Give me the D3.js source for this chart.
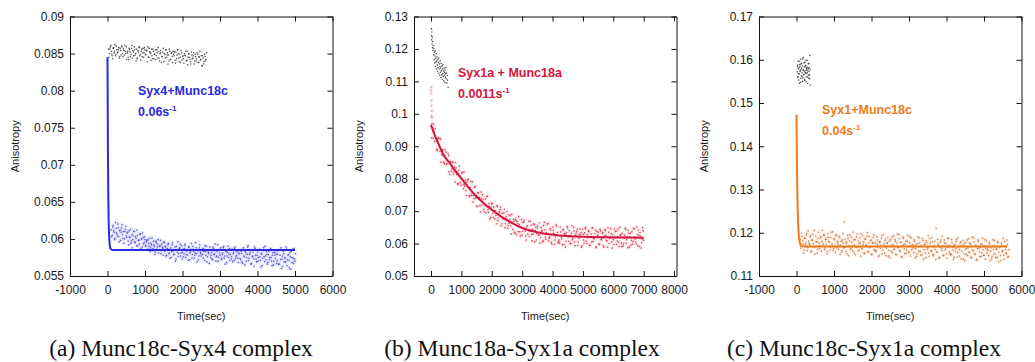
<!DOCTYPE html>
<html>
<head>
<meta charset="utf-8">
<script src="https://cdn.jsdelivr.net/npm/d3@7"></script>
<style>
  html, body { margin: 0; padding: 0; background: #fff; }
  svg { display: block; }
</style>
</head>
<body>
<svg id="fig" width="1035" height="362"></svg>
<script>
// ---------------- data ----------------
// Anisotropy readings. Each trace is stored as two interleaved read-outs
// taken at a fixed sampling interval (s); start times are given per read-out.

// (a) Munc18c-Syx4
const syx4XTicks = [-1000, 0, 1000, 2000, 3000, 4000, 5000, 6000];
const syx4YTicks = [0.055, 0.06, 0.065, 0.07, 0.075, 0.08, 0.085, 0.09];
const syx4FreeStep = 25;
const syx4FreeStartA = 25;
const syx4FreeA = [
  0.0856,0.0850,0.0859,0.0853,0.0847,0.0857,0.0851,0.0862,0.0849,0.0855,
  0.0852,0.0858,0.0846,0.0854,0.0860,0.0850,0.0856,0.0848,0.0853,0.0859,
  0.0851,0.0845,0.0857,0.0852,0.0849,0.0861,0.0854,0.0847,0.0855,0.0850,
  0.0856,0.0844,0.0852,0.0858,0.0849,0.0853,0.0846,0.0857,0.0851,0.0855,
  0.0848,0.0854,0.0859,0.0845,0.0852,0.0850,0.0856,0.0843,0.0853,0.0849,
  0.0855,0.0847,0.0851,0.0858,0.0844,0.0850,0.0854,0.0846,0.0852,0.0839,
  0.0849,0.0855,0.0845,0.0851,0.0848,0.0856,0.0842,0.0850,0.0846,0.0853,
  0.0847,0.0841,0.0852,0.0848,0.0855,0.0844,0.0849,0.0838,0.0851,0.0846,
  0.0843,0.0850,0.0847,0.0840,0.0853,0.0845,0.0849,0.0842,0.0836,0.0848,
  0.0844,0.0851,0.0840,0.0846,0.0843,0.0849,0.0838,0.0845,0.0841,0.0847,
  0.0833,0.0844,0.0839,0.0846,0.0842
];
const syx4FreeStartB = 37.5;
const syx4FreeB = [
  0.0845,0.0856,0.0861,0.0849,0.0843,0.0858,0.0853,0.0847,0.0860,0.0851,
  0.0855,0.0844,0.0857,0.0848,0.0859,0.0846,0.0854,0.0861,0.0850,0.0842,
  0.0853,0.0842,0.0855,0.0846,0.0857,0.0844,0.0852,0.0859,0.0848,0.0840,
  0.0843,0.0854,0.0859,0.0847,0.0841,0.0856,0.0851,0.0845,0.0858,0.0849,
  0.0854,0.0839,0.0845,0.0857,0.0852,0.0841,0.0847,0.0856,0.0843,0.0849,
  0.0842,0.0855,0.0844,0.0853,0.0840,0.0851,0.0838,0.0846,0.0857,0.0850,
  0.0844,0.0855,0.0848,0.0836,0.0840,0.0853,0.0842,0.0851,0.0838,0.0849,
  0.0852,0.0837,0.0843,0.0855,0.0850,0.0839,0.0845,0.0854,0.0841,0.0847,
  0.0837,0.0848,0.0853,0.0841,0.0835,0.0850,0.0845,0.0839,0.0852,0.0843,
  0.0847,0.0836,0.0849,0.0840,0.0851,0.0838,0.0846,0.0853,0.0842,0.0834,
  0.0847,0.0836,0.0849,0.0840,0.0851
];
const syx4MixStep = 25;
const syx4MixStartA = 100;
const syx4MixA = [
  0.0612,0.0605,0.0618,0.0609,0.0601,0.0614,0.0607,0.0620,0.0603,0.0611,0.0598,0.0615,0.0606,0.0610,0.0600,0.0613,0.0604,
  0.0608,0.0597,0.0611,0.0602,0.0594,0.0606,0.0599,0.0610,0.0596,0.0603,0.0591,0.0605,0.0598,0.0593,0.0607,0.0600,0.0589,0.0602,0.0595,0.0599,
  0.0590,0.0598,0.0586,0.0594,0.0601,0.0588,0.0592,0.0584,0.0597,0.0590,0.0582,0.0595,0.0589,0.0599,0.0585,0.0591,0.0580,0.0593,0.0587,0.0596,
  0.0583,0.0590,0.0578,0.0587,0.0594,0.0581,0.0586,0.0575,0.0592,0.0584,0.0579,0.0589,0.0573,0.0585,0.0596,0.0580,0.0588,0.0577,0.0591,0.0582,
  0.0576,0.0587,0.0593,0.0579,0.0584,0.0571,0.0589,0.0581,0.0586,0.0574,0.0590,0.0583,0.0578,0.0595,0.0580,0.0585,0.0572,0.0588,0.0582,0.0577,
  0.0586,0.0574,0.0583,0.0591,0.0578,0.0569,0.0584,0.0580,0.0589,0.0575,0.0582,0.0572,0.0587,0.0579,0.0593,0.0576,0.0583,0.0570,0.0585,0.0578,
  0.0588,0.0574,0.0581,0.0590,0.0577,0.0584,0.0568,0.0582,0.0575,0.0587,0.0579,0.0573,0.0586,0.0580,0.0571,0.0589,0.0576,0.0583,0.0574,0.0581,
  0.0585,0.0572,0.0580,0.0567,0.0588,0.0576,0.0583,0.0570,0.0579,0.0591,0.0574,0.0581,0.0566,0.0585,0.0577,0.0573,0.0589,0.0578,0.0569,0.0582,
  0.0575,0.0586,0.0571,0.0580,0.0564,0.0584,0.0576,0.0590,0.0572,0.0579,0.0568,0.0583,0.0575,0.0587,0.0570,0.0578,0.0565,0.0582,0.0574,0.0580,
  0.0571,0.0584,0.0566,0.0578,0.0588,0.0573,0.0563,0.0580,0.0575,0.0569,0.0586,0.0572,0.0579,0.0561,0.0576,0.0583,0.0568,0.0574,0.0587,0.0570
];
const syx4MixStartB = 112.5;
const syx4MixB = [
  0.0603,0.0616,0.0611,0.0599,0.0622,0.0608,0.0604,0.0615,0.0596,0.0612,0.0609,0.0619,0.0601,0.0594,0.0610,0.0617,0.0602,
  0.0609,0.0592,0.0603,0.0613,0.0597,0.0588,0.0604,0.0610,0.0595,0.0601,0.0612,0.0590,0.0598,0.0606,0.0587,0.0600,0.0608,0.0593,0.0603,0.0591,
  0.0596,0.0585,0.0599,0.0590,0.0583,0.0594,0.0601,0.0587,0.0592,0.0579,0.0597,0.0586,0.0593,0.0581,0.0590,0.0598,0.0584,0.0589,0.0578,0.0595,
  0.0589,0.0577,0.0586,0.0592,0.0580,0.0574,0.0588,0.0583,0.0595,0.0579,0.0585,0.0570,0.0590,0.0582,0.0576,0.0587,0.0593,0.0581,0.0573,0.0586,
  0.0580,0.0591,0.0575,0.0584,0.0578,0.0589,0.0572,0.0583,0.0594,0.0579,0.0586,0.0574,0.0581,0.0588,0.0569,0.0584,0.0577,0.0592,0.0580,0.0585,
  0.0579,0.0587,0.0571,0.0583,0.0590,0.0576,0.0582,0.0567,0.0585,0.0578,0.0573,0.0589,0.0580,0.0584,0.0570,0.0577,0.0592,0.0575,0.0581,0.0586,
  0.0572,0.0579,0.0588,0.0574,0.0566,0.0583,0.0577,0.0590,0.0580,0.0571,0.0585,0.0576,0.0569,0.0582,0.0587,0.0573,0.0578,0.0584,0.0568,0.0580,
  0.0574,0.0583,0.0569,0.0586,0.0577,0.0565,0.0581,0.0575,0.0589,0.0571,0.0579,0.0584,0.0567,0.0576,0.0582,0.0563,0.0587,0.0573,0.0578,0.0570,
  0.0585,0.0576,0.0562,0.0580,0.0574,0.0588,0.0569,0.0577,0.0583,0.0566,0.0579,0.0572,0.0586,0.0575,0.0564,0.0581,0.0570,0.0578,0.0584,0.0567,
  0.0579,0.0566,0.0585,0.0572,0.0560,0.0577,0.0583,0.0569,0.0574,0.0589,0.0564,0.0578,0.0571,0.0582,0.0559,0.0575,0.0586,0.0567,0.0573,0.0580
];
const syx4Fit = [
  [0,0.0845],[10,0.0728],[20,0.0664],[30,0.0627],[40,0.0608],[50,0.0598],
  [60,0.0592],[80,0.0587],[100,0.0586],[150,0.0585],[5000,0.0585]
];

// (b) Munc18a-Syx1a
const syx1aXTicks = [0, 1000, 2000, 3000, 4000, 5000, 6000, 7000, 8000];
const syx1aYTicks = [0.05, 0.06, 0.07, 0.08, 0.09, 0.1, 0.11, 0.12, 0.13];
const syx1aFree = [
  [12,0.1262],[18,0.1241],[22,0.1228],[28,0.1252],[33,0.1215],[40,0.1236],[48,0.1204],[55,0.1223],[62,0.1195],[75,0.1210],
  [85,0.1182],[95,0.1201],[105,0.1168],[112,0.1189],[120,0.1157],[130,0.1178],[138,0.1194],[146,0.1146],[155,0.1171],[163,0.1160],
  [172,0.1185],[180,0.1139],[190,0.1163],[198,0.1176],[207,0.1150],[215,0.1131],[224,0.1168],[232,0.1143],[241,0.1159],[250,0.1125],
  [258,0.1172],[266,0.1138],[275,0.1154],[284,0.1119],[292,0.1146],[300,0.1163],[309,0.1128],[318,0.1141],[326,0.1112],[335,0.1155],
  [343,0.1133],[352,0.1120],[360,0.1147],[369,0.1106],[378,0.1138],[386,0.1124],[395,0.1151],[404,0.1115],[412,0.1132],[421,0.1102],
  [430,0.1141],[438,0.1119],[447,0.1128],[456,0.1097],[464,0.1135],[473,0.1113],[482,0.1124],[490,0.1143],[500,0.1108],[510,0.1126],
  [522,0.1095],[535,0.1118],[548,0.1104],[560,0.1082]
];
const syx1aOnset = [
  [8,0.1072],[10,0.1082],[12,0.1025],[15,0.1063],[18,0.0994],[20,0.1041],[25,0.1009],[30,0.0988]
];
const syx1aMixStep = 35;
const syx1aMixStartA = 35;
const syx1aMixA = [
  0.0970,0.0925,0.0945,0.0954,0.0916,0.0887,0.0925,0.0899,0.0922,0.0874,
  0.0888,0.0851,0.0869,0.0882,0.0847,0.0878,0.0821,0.0851,0.0823,0.0849,
  0.0813,0.0836,0.0850,0.0813,0.0784,0.0825,0.0809,0.0780,0.0817,0.0783,
  0.0820,0.0783,0.0763,0.0789,0.0798,0.0744,0.0772,0.0748,0.0790,0.0748,
  0.0774,0.0741,0.0716,0.0757,0.0742,0.0717,0.0759,0.0718,0.0735,0.0699,
  0.0737,0.0715,0.0745,0.0696,0.0715,0.0681,0.0724,0.0693,0.0713,0.0676,
  0.0687,0.0717,0.0670,0.0694,0.0705,0.0654,0.0693,0.0676,0.0706,0.0661,
  0.0675,0.0647,0.0689,0.0675,0.0654,0.0690,0.0643,0.0669,0.0632,0.0671,
  0.0668,0.0637,0.0658,0.0623,0.0674,0.0637,0.0666,0.0647,0.0623,0.0652,
  0.0629,0.0669,0.0638,0.0656,0.0609,0.0629,0.0658,0.0640,0.0611,0.0647,
  0.0626,0.0664,0.0618,0.0638,0.0606,0.0656,0.0643,0.0613,0.0629,0.0662,
  0.0616,0.0646,0.0605,0.0630,0.0641,0.0597,0.0621,0.0653,0.0634,0.0607,
  0.0602,0.0636,0.0614,0.0643,0.0597,0.0629,0.0607,0.0653,0.0621,0.0640,
  0.0599,0.0632,0.0612,0.0650,0.0605,0.0626,0.0638,0.0594,0.0616,0.0645,
  0.0634,0.0593,0.0629,0.0601,0.0646,0.0608,0.0627,0.0639,0.0595,0.0621,
  0.0605,0.0648,0.0616,0.0631,0.0590,0.0638,0.0625,0.0599,0.0644,0.0612,
  0.0631,0.0594,0.0623,0.0640,0.0610,0.0589,0.0635,0.0616,0.0646,0.0605,
  0.0627,0.0597,0.0620,0.0638,0.0608,0.0644,0.0591,0.0625,0.0602,0.0632,
  0.0599,0.0626,0.0644,0.0612,0.0587,0.0632,0.0620,0.0595,0.0636,0.0606,
  0.0647,0.0614,0.0598,0.0628,0.0641,0.0591,0.0623,0.0603,0.0649,0.0610
];
const syx1aMixStartB = 17.5;
const syx1aMixB = [
  0.0926,0.0955,0.0968,0.0915,0.0924,0.0891,0.0923,0.0924,0.0884,0.0851,
  0.0889,0.0871,0.0846,0.0889,0.0844,0.0857,0.0871,0.0813,0.0853,0.0830,
  0.0851,0.0821,0.0790,0.0833,0.0820,0.0784,0.0838,0.0788,0.0799,0.0820,
  0.0769,0.0777,0.0795,0.0748,0.0796,0.0773,0.0748,0.0791,0.0755,0.0728,
  0.0738,0.0775,0.0741,0.0714,0.0756,0.0742,0.0697,0.0739,0.0750,0.0706,
  0.0720,0.0694,0.0746,0.0705,0.0723,0.0676,0.0712,0.0723,0.0681,0.0701,
  0.0701,0.0661,0.0714,0.0679,0.0699,0.0713,0.0661,0.0677,0.0694,0.0649,
  0.0683,0.0699,0.0655,0.0662,0.0686,0.0630,0.0665,0.0675,0.0635,0.0675,
  0.0627,0.0662,0.0683,0.0636,0.0652,0.0626,0.0665,0.0672,0.0638,0.0611,
  0.0655,0.0643,0.0622,0.0669,0.0628,0.0644,0.0661,0.0606,0.0651,0.0631,
  0.0654,0.0628,0.0601,0.0649,0.0640,0.0608,0.0666,0.0620,0.0635,0.0660,
  0.0608,0.0620,0.0642,0.0599,0.0651,0.0632,0.0611,0.0658,0.0626,0.0602,
  0.0611,0.0651,0.0620,0.0596,0.0642,0.0631,0.0589,0.0634,0.0648,0.0607,
  0.0624,0.0601,0.0655,0.0617,0.0638,0.0593,0.0632,0.0645,0.0605,0.0628,
  0.0627,0.0589,0.0644,0.0611,0.0633,0.0650,0.0600,0.0618,0.0637,0.0594,
  0.0630,0.0648,0.0606,0.0615,0.0641,0.0587,0.0624,0.0635,0.0597,0.0639,
  0.0615,0.0634,0.0589,0.0643,0.0625,0.0608,0.0648,0.0600,0.0620,0.0631,
  0.0586,0.0612,0.0645,0.0637,0.0597,0.0622,0.0605,0.0650,0.0628,0.0591,
  0.0592,0.0616,0.0648,0.0601,0.0622,0.0641,0.0589,0.0632,0.0610,0.0598,
  0.0645,0.0620,0.0605,0.0651,0.0593,0.0625,0.0634,0.0586,0.0613,0.0639
];
const syx1aFit = [
  [0,0.0966],[100,0.0940],[200,0.0918],[300,0.0896],[415,0.0873],[600,0.0850],
  [800,0.0824],[1000,0.0801],[1250,0.0771],[1500,0.0745],[1750,0.0723],[2000,0.0704],
  [2300,0.0684],[2600,0.0667],[3000,0.0648],[3500,0.0635],[4000,0.0627],[4500,0.0623],
  [5000,0.0621],[6000,0.0619],[7000,0.0618]
];

// (c) Munc18c-Syx1a
const syx1XTicks = [-1000, 0, 1000, 2000, 3000, 4000, 5000, 6000];
const syx1YTicks = [0.11, 0.12, 0.13, 0.14, 0.15, 0.16, 0.17];
const syx1FreeStep = 10;
const syx1FreeStartA = 20;
const syx1FreeA = [
  0.1572,0.1588,0.1561,0.1579,0.1553,0.1596,0.1567,0.1584,0.1575,0.1548,
  0.1590,0.1563,0.1581,0.1570,0.1602,0.1558,0.1577,0.1566,0.1593,0.1574,
  0.1552,0.1585,0.1569,0.1598,0.1576,0.1560,0.1583,0.1571,0.1545,0.1580,
  0.1564,0.1591,0.1573,0.1556,0.1578
];
const syx1FreeStartB = 25;
const syx1FreeB = [
  0.1584,0.1559,0.1597,0.1568,0.1581,0.1546,0.1589,0.1573,0.1601,0.1557,
  0.1578,0.1592,0.1562,0.1586,0.1550,0.1575,0.1605,0.1566,0.1583,0.1555,
  0.1594,0.1571,0.1587,0.1549,0.1580,0.1568,0.1599,0.1560,0.1576,0.1591,
  0.1557,0.1582,0.1565,0.1610,0.1541
];
const syx1MixStep = 25;
const syx1MixStartA = 100;
const syx1MixA = [
  0.1185,0.1169,0.1192,0.1174,0.1160,0.1188,0.1177,0.1199,0.1166,0.1181,
  0.1172,0.1194,0.1158,0.1183,0.1175,0.1205,0.1168,0.1179,0.1153,0.1187,
  0.1176,0.1163,0.1191,0.1180,0.1170,0.1196,0.1161,0.1184,0.1173,0.1156,
  0.1189,0.1178,0.1167,0.1201,0.1174,0.1159,0.1186,0.1171,0.1193,0.1165,
  0.1180,0.1162,0.1188,0.1171,0.1155,0.1183,0.1176,0.1225,0.1166,0.1179,
  0.1151,0.1187,0.1170,0.1195,0.1163,0.1178,0.1158,0.1184,0.1172,0.1149,
  0.1190,0.1167,0.1181,0.1160,0.1176,0.1198,0.1164,0.1173,0.1154,0.1185,
  0.1169,0.1192,0.1157,0.1177,0.1166,0.1182,0.1150,0.1175,0.1189,0.1161,
  0.1176,0.1158,0.1183,0.1167,0.1148,0.1179,0.1171,0.1193,0.1160,0.1174,
  0.1153,0.1186,0.1165,0.1177,0.1146,0.1181,0.1169,0.1157,0.1190,0.1172,
  0.1162,0.1184,0.1150,0.1175,0.1166,0.1196,0.1159,0.1178,0.1145,0.1170,
  0.1187,0.1163,0.1173,0.1152,0.1180,0.1168,0.1155,0.1191,0.1171,0.1161,
  0.1172,0.1154,0.1180,0.1163,0.1145,0.1175,0.1167,0.1188,0.1157,0.1170,
  0.1149,0.1182,0.1161,0.1173,0.1142,0.1177,0.1165,0.1153,0.1186,0.1168,
  0.1158,0.1179,0.1147,0.1171,0.1162,0.1210,0.1155,0.1174,0.1141,0.1166,
  0.1183,0.1159,0.1169,0.1148,0.1176,0.1164,0.1151,0.1187,0.1167,0.1156,
  0.1169,0.1150,0.1177,0.1160,0.1143,0.1172,0.1164,0.1185,0.1154,0.1167,
  0.1146,0.1179,0.1158,0.1170,0.1139,0.1174,0.1162,0.1150,0.1183,0.1165,
  0.1155,0.1176,0.1144,0.1168,0.1159,0.1188,0.1152,0.1171,0.1138,0.1163,
  0.1180,0.1156,0.1166,0.1145,0.1173,0.1161,0.1148,0.1184,0.1164,0.1153,
  0.1166,0.1147,0.1174,0.1157,0.1140,0.1169,0.1161,0.1182,0.1151,0.1164,
  0.1143,0.1176,0.1155,0.1167,0.1136,0.1171,0.1159,0.1148,0.1180,0.1162,
  0.1152,0.1173,0.1145
];
const syx1MixStartB = 112.5;
const syx1MixB = [
  0.1164,0.1199,0.1181,0.1153,0.1187,0.1172,0.1195,0.1159,0.1204,0.1176,
  0.1190,0.1155,0.1183,0.1197,0.1167,0.1150,0.1192,0.1179,0.1162,0.1201,
  0.1170,0.1188,0.1157,0.1205,0.1174,0.1194,0.1165,0.1185,0.1151,0.1198,
  0.1180,0.1160,0.1189,0.1169,0.1202,0.1163,0.1184,0.1154,0.1196,0.1177,
  0.1173,0.1192,0.1150,0.1180,0.1159,0.1198,0.1165,0.1185,0.1156,0.1176,
  0.1194,0.1147,0.1181,0.1161,0.1190,0.1170,0.1201,0.1153,0.1184,0.1166,
  0.1197,0.1158,0.1175,0.1188,0.1146,0.1163,0.1193,0.1179,0.1151,0.1186,
  0.1172,0.1200,0.1155,0.1191,0.1168,0.1183,0.1149,0.1177,0.1195,0.1160,
  0.1156,0.1191,0.1173,0.1145,0.1179,0.1164,0.1187,0.1151,0.1196,0.1168,
  0.1182,0.1147,0.1175,0.1189,0.1159,0.1142,0.1184,0.1171,0.1154,0.1193,
  0.1162,0.1180,0.1149,0.1197,0.1166,0.1186,0.1157,0.1177,0.1143,0.1190,
  0.1172,0.1152,0.1181,0.1161,0.1194,0.1155,0.1176,0.1146,0.1188,0.1169,
  0.1165,0.1184,0.1142,0.1172,0.1151,0.1190,0.1157,0.1177,0.1148,0.1168,
  0.1186,0.1139,0.1173,0.1153,0.1182,0.1162,0.1193,0.1145,0.1176,0.1158,
  0.1189,0.1150,0.1167,0.1180,0.1138,0.1155,0.1185,0.1171,0.1143,0.1178,
  0.1164,0.1192,0.1147,0.1183,0.1160,0.1175,0.1141,0.1169,0.1187,0.1152,
  0.1149,0.1184,0.1166,0.1138,0.1172,0.1157,0.1180,0.1144,0.1189,0.1161,
  0.1175,0.1140,0.1168,0.1182,0.1152,0.1135,0.1177,0.1164,0.1147,0.1186,
  0.1155,0.1173,0.1142,0.1190,0.1159,0.1179,0.1150,0.1170,0.1136,0.1183,
  0.1165,0.1145,0.1174,0.1154,0.1187,0.1148,0.1169,0.1139,0.1181,0.1162,
  0.1159,0.1178,0.1136,0.1166,0.1145,0.1184,0.1151,0.1171,0.1142,0.1162,
  0.1180,0.1133,0.1167,0.1147,0.1176,0.1156,0.1187,0.1139,0.1170,0.1152,
  0.1183,0.1144,0.1161
];
const syx1Fit = [
  [0,0.1473],[10,0.1372],[20,0.1305],[30,0.1260],[40,0.1230],[50,0.1209],
  [60,0.1196],[80,0.1180],[100,0.1174],[130,0.1170],[200,0.1168],[5620,0.1168]
];

// ---------------- layout ----------------
const TOP = 16.5, BOTTOM = 276, PW = 262.5;
const sampled = (start, step, vals) => vals.map((v, i) => [start + i * step, v]);
const fmt = v => String(+v.toFixed(4));

const panels = [
  {
    left: 70, xDomain: [-1000, 6000], yDomain: [0.055, 0.09],
    xTicks: syx4XTicks, yTicks: syx4YTicks,
    free: sampled(syx4FreeStartA, syx4FreeStep, syx4FreeA)
      .concat(sampled(syx4FreeStartB, syx4FreeStep, syx4FreeB)),
    mix: sampled(syx4MixStartA, syx4MixStep, syx4MixA)
      .concat(sampled(syx4MixStartB, syx4MixStep, syx4MixB)),
    extra: [],
    fit: syx4Fit,
    dot: "#3a3ad2", halo: "#9a9af2", line: "#2a2ae0",
    name: "Syx4+Munc18c", rate: "0.06s", annX: 138, annY: 95, rateY: 116,
    caption: "(a) Munc18c-Syx4 complex", capX: 181
  },
  {
    left: 414, xDomain: [-560, 8080], yDomain: [0.05, 0.13],
    xTicks: syx1aXTicks, yTicks: syx1aYTicks,
    free: syx1aFree,
    mix: sampled(syx1aMixStartA, syx1aMixStep, syx1aMixA)
      .concat(sampled(syx1aMixStartB, syx1aMixStep, syx1aMixB)),
    extra: syx1aOnset,
    fit: syx1aFit,
    dot: "#c02238", halo: "#f29aa6", line: "#d4143c",
    name: "Syx1a + Munc18a", rate: "0.0011s", annX: 458, annY: 77, rateY: 98,
    caption: "(b) Munc18a-Syx1a complex", capX: 522
  },
  {
    left: 759, xDomain: [-1000, 6000], yDomain: [0.11, 0.17],
    xTicks: syx1XTicks, yTicks: syx1YTicks,
    free: sampled(syx1FreeStartA, syx1FreeStep, syx1FreeA)
      .concat(sampled(syx1FreeStartB, syx1FreeStep, syx1FreeB)),
    mix: sampled(syx1MixStartA, syx1MixStep, syx1MixA)
      .concat(sampled(syx1MixStartB, syx1MixStep, syx1MixB)),
    extra: [],
    fit: syx1Fit,
    dot: "#b36a38", halo: "#f7b888", line: "#ee7a1c",
    name: "Syx1+Munc18c", rate: "0.04s", annX: 822, annY: 114, rateY: 135,
    caption: "(c) Munc18c-Syx1a complex", capX: 864
  }
];

const svg = d3.select("#fig");
svg.append("rect").attr("width", 1035).attr("height", 362).attr("fill", "#fff");

const SANS = "'Liberation Sans', Arial, Helvetica, sans-serif";

panels.forEach((p, k) => {
  const x = d3.scaleLinear().domain(p.xDomain).range([p.left, p.left + PW]);
  const y = d3.scaleLinear().domain(p.yDomain).range([BOTTOM, TOP]);
  const g = svg.append("g");

  const clipId = "plot-clip-" + k;
  g.append("clipPath").attr("id", clipId)
    .append("rect").attr("x", p.left).attr("y", TOP).attr("width", PW).attr("height", BOTTOM - TOP);
  const plot = g.append("g").attr("clip-path", `url(#${clipId})`);

  // soft halo under the coloured points
  plot.append("g").selectAll("circle").data(p.mix.concat(p.extra)).join("circle")
    .attr("cx", d => x(d[0])).attr("cy", d => y(d[1])).attr("r", 2.4)
    .attr("fill", p.halo).attr("opacity", 0.14);

  plot.append("g").selectAll("circle").data(p.extra).join("circle")
    .attr("cx", d => x(d[0])).attr("cy", d => y(d[1])).attr("r", 0.9)
    .attr("fill", p.halo).attr("opacity", 0.9);

  plot.append("g").selectAll("circle").data(p.mix).join("circle")
    .attr("cx", d => x(d[0])).attr("cy", d => y(d[1])).attr("r", 0.8)
    .attr("fill", p.dot).attr("opacity", 0.8);

  // free syntaxin, before adding Munc18
  plot.append("g").selectAll("circle").data(p.free).join("circle")
    .attr("cx", d => x(d[0])).attr("cy", d => y(d[1])).attr("r", 0.8)
    .attr("fill", "#2a2a2a").attr("opacity", 0.8);

  // exponential fit
  plot.append("path").datum(p.fit)
    .attr("fill", "none").attr("stroke", p.line).attr("stroke-width", 2)
    .attr("stroke-linejoin", "round")
    .attr("d", d3.line().x(d => x(d[0])).y(d => y(d[1])).curve(d3.curveMonotoneX));

  // axes: ticks point inward on all four sides
  const styleAxis = sel => {
    sel.selectAll("path.domain").attr("stroke", "#111").attr("stroke-width", 1);
    sel.selectAll(".tick line").attr("stroke", "#111").attr("stroke-width", 1);
    sel.selectAll("text").attr("fill", "#1a1a1a")
      .style("font-family", SANS).style("font-size", "12px");
  };
  g.append("g").attr("transform", `translate(0,${BOTTOM})`)
    .call(d3.axisBottom(x).tickValues(p.xTicks).tickFormat(d => String(d))
      .tickSizeInner(-5).tickSizeOuter(0).tickPadding(9))
    .call(styleAxis);
  g.append("g").attr("transform", `translate(0,${TOP})`)
    .call(d3.axisTop(x).tickValues(p.xTicks).tickFormat("")
      .tickSizeInner(-5).tickSizeOuter(0))
    .call(styleAxis);
  g.append("g").attr("transform", `translate(${p.left},0)`)
    .call(d3.axisLeft(y).tickValues(p.yTicks).tickFormat(fmt)
      .tickSizeInner(-5).tickSizeOuter(0).tickPadding(6))
    .call(styleAxis);
  g.append("g").attr("transform", `translate(${p.left + PW},0)`)
    .call(d3.axisRight(y).tickValues(p.yTicks).tickFormat("")
      .tickSizeInner(-5).tickSizeOuter(0))
    .call(styleAxis);

  // axis titles
  g.append("text")
    .attr("transform", `translate(${p.left - 55},${(TOP + BOTTOM) / 2}) rotate(-90)`)
    .attr("text-anchor", "middle").attr("dy", "0.35em")
    .style("font-family", SANS).style("font-size", "11px").attr("fill", "#1a1a1a")
    .text("Anisotropy");
  g.append("text")
    .attr("x", p.left + PW / 2).attr("y", 320)
    .attr("text-anchor", "middle")
    .style("font-family", SANS).style("font-size", "11px").attr("fill", "#1a1a1a")
    .text("Time(sec)");

  // complex name and rate constant
  g.append("text").attr("x", p.annX).attr("y", p.annY)
    .style("font-family", SANS).style("font-size", "12.5px").style("font-weight", "bold")
    .attr("fill", p.line).text(p.name);
  const r = g.append("text").attr("x", p.annX).attr("y", p.rateY)
    .style("font-family", SANS).style("font-size", "12.5px").style("font-weight", "bold")
    .attr("fill", p.line);
  r.append("tspan").text(p.rate);
  r.append("tspan").attr("dy", -5).style("font-size", "8px").text("-1");

  // sub-figure caption
  svg.append("text").attr("x", p.capX).attr("y", 356)
    .attr("text-anchor", "middle")
    .style("font-family", "'Liberation Serif', 'Times New Roman', serif").style("font-size", "23.5px")
    .attr("fill", "#111").text(p.caption);
});
</script>
</body>
</html>
